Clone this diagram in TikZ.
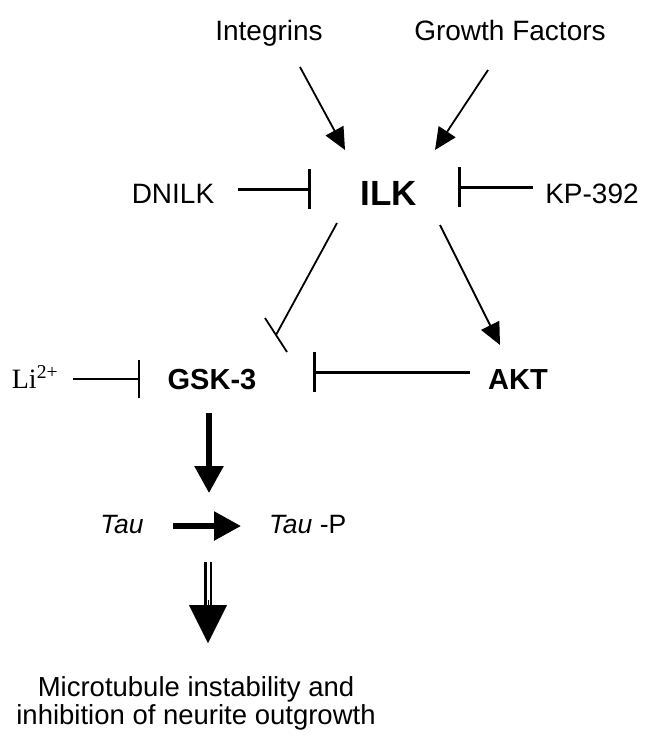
\documentclass[tikz,border=0pt]{standalone}
\usepackage{fontspec}
\setmainfont{Liberation Sans}
\newfontfamily\timesfont{Liberation Serif}
\usetikzlibrary{arrows.meta}
\begin{document}
\begin{tikzpicture}[x=1pt,y=-1pt,
  lbl/.style={inner sep=0pt, anchor=base, font=\fontsize{28}{32}\selectfont},
  keynode/.style={inner sep=0pt, anchor=base, font=\fontsize{29}{33}\selectfont\bfseries},
  actthin/.style={line width=1.8pt, -{Triangle[length=22pt,width=20pt]}},
  actthick/.style={line width=5.5pt, -{Triangle[length=27pt,width=28pt]}},
  inhthick/.style={line width=3pt, -{Bar[width=40pt]}},
  inhthin/.style={line width=1.6pt, -{Bar[width=38pt]}},
  dblshaft/.style={double, double distance=3pt, line width=2.3pt},
  bighead/.style={line width=0.1pt, -{Triangle[length=38pt,width=38pt]}}
]
\useasboundingbox (0,0) rectangle (649,736);
% nodes
\node[lbl] (integrins) at (269,40) {Integrins};
\node[lbl] (growth) at (510,40) {Growth Factors};
\node[lbl] (dnilk) at (173,203) {DNILK};
\node[keynode, font=\fontsize{35}{38}\selectfont\bfseries] (ilk) at (389,205) {ILK};
\node[lbl] (kp) at (592,203) {KP-392};
\node[lbl, font=\fontsize{28}{32}\selectfont\timesfont] (li) at (35,388) {Li\textsuperscript{2+}};
\node[keynode] (gsk) at (212,389) {GSK-3};
\node[keynode] (akt) at (518,389) {AKT};
\node[lbl, font=\fontsize{26.5}{30}\selectfont\itshape] (tau) at (122,533) {Tau};
\node[lbl, anchor=base west, font=\fontsize{26.5}{30}\selectfont] (taup) at (269,533) {\textit{Tau} -P};
\node[lbl, font=\fontsize{27.5}{31}\selectfont] (out1) at (196,696) {Microtubule instability and};
\node[lbl, font=\fontsize{27.5}{31}\selectfont] (out2) at (196,724) {inhibition of neurite outgrowth};
% connector end points
\coordinate (i1) at (300,67);  \coordinate (i2) at (345,150);
\coordinate (g1) at (488,70);  \coordinate (g2) at (435,150);
\coordinate (d1) at (238,189); \coordinate (d2) at (311,189);
\coordinate (k1) at (533,187); \coordinate (k2) at (458,187);
\coordinate (ig1) at (337,223); \coordinate (ig2) at (276,335);
\coordinate (igb1) at (265,318); \coordinate (igb2) at (287,352);
\coordinate (ia1) at (440,225); \coordinate (ia2) at (500,345);
\coordinate (l1) at (73,379);  \coordinate (l2) at (140,379);
\coordinate (a1) at (470,372); \coordinate (a2) at (313,372);
\coordinate (gd1) at (209,413); \coordinate (gd2) at (209,493);
\coordinate (t1) at (173,526); \coordinate (t2) at (241,526);
\coordinate (m1) at (208,562); \coordinate (m2) at (208,606);
\coordinate (m3) at (208,600); \coordinate (m4) at (208,643);
% connectors
\draw[actthin] (i1) -- (i2);
\draw[actthin] (g1) -- (g2);
\draw[inhthick] (d1) -- (d2);
\draw[inhthick] (k1) -- (k2);
\draw[line width=1.8pt] (ig1) -- (ig2);
\draw[line width=1.8pt] (igb1) -- (igb2);
\draw[actthin] (ia1) -- (ia2);
\draw[inhthin] (l1) -- (l2);
\draw[inhthick] (a1) -- (a2);
\draw[actthick] (gd1) -- (gd2);
\draw[actthick] (t1) -- (t2);
\draw[dblshaft] (m1) -- (m2);
\draw[bighead] (m3) -- (m4);
\end{tikzpicture}
\end{document}
